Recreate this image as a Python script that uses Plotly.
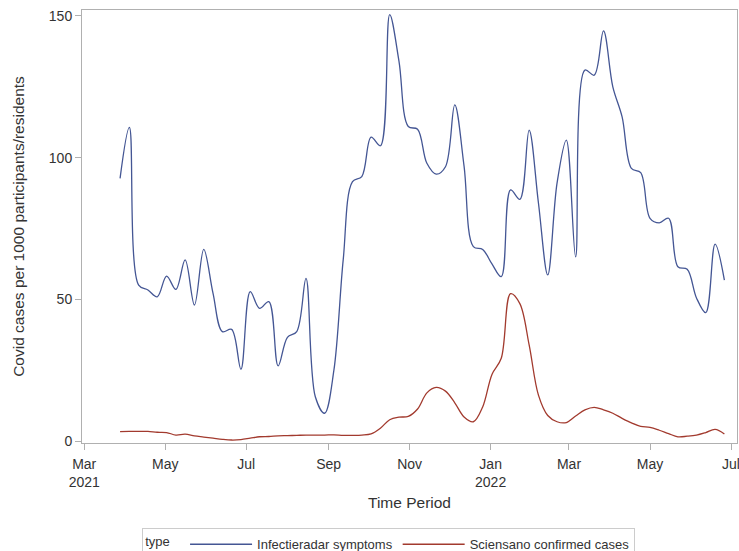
import pandas as pd
import plotly.graph_objects as go

# Weekly dates (starting 2021-03-28)
dates = pd.date_range("2021-03-28", periods=66, freq="7D")

infectieradar = [
    92.7, 110.7, 55.0, 53.3, 50.9, 58.2, 53.5, 63.9, 48.0, 67.6,
    52.1, 38.6, 39.4, 25.3, 52.7, 46.8, 49.2, 26.5, 36.6, 38.6,
    57.4, 15.6, 9.8, 25.0, 63.9, 91.5, 93.3, 107.2, 104.2, 150.5,
    134.0, 111.0, 110.0, 98.0, 94.2, 96.8, 118.6, 97.0, 68.6, 67.6,
    62.5, 58.0, 88.6, 85.3, 109.7, 84.0, 58.6, 91.0, 106.2, 65.0,
    130.9, 129.1, 144.7, 125.0, 114.4, 96.2, 94.7, 78.6, 77.0, 78.6,
    61.5, 60.6, 50.5, 45.3, 69.5, 56.8,
]

sciensano = [
    3.3, 3.4, 3.4, 3.4, 3.1, 3.0, 2.1, 2.4, 1.8, 1.4,
    1.0, 0.6, 0.35, 0.5, 1.0, 1.5, 1.6, 1.8, 1.9, 2.0,
    2.1, 2.1, 2.1, 2.2, 2.0, 2.0, 2.1, 2.5, 4.5, 7.5,
    8.4, 8.7, 11.3, 17.0, 18.9, 17.6, 13.5, 8.5, 6.8, 12.0,
    23.5, 29.2, 52.0, 48.5, 33.9, 16.2, 9.0, 6.8, 6.5, 8.8,
    11.0, 11.9, 11.0, 9.8, 8.0, 6.4, 5.2, 4.8, 3.8, 2.6,
    1.5, 1.7, 2.1, 3.0, 4.1, 2.5,
]

tick_dates = ["2021-03-01", "2021-05-01", "2021-07-01", "2021-09-01", "2021-11-01",
              "2022-01-01", "2022-03-01", "2022-05-01", "2022-07-01"]
tick_labels = ["Mar<br>2021", "May", "Jul", "Sep", "Nov", "Jan<br>2022", "Mar", "May", "Jul"]
y_ticks = [0, 50, 100, 150]

series_names = ["Infectieradar symptoms", "Sciensano confirmed cases"]
series_colors = ["#445694", "#A23A2E"]

fig = go.Figure()
for name, vals, col in zip(series_names, [infectieradar, sciensano], series_colors):
    fig.add_trace(go.Scatter(
        x=dates, y=vals, mode="lines", name=name,
        line=dict(color=col, width=1.3, shape="spline", smoothing=1.0),
    ))

axis_col = "#b0b0b0"
font_col = "#333333"
FONT = "Liberation Sans, Arial, sans-serif"

fig.update_layout(
    width=739, height=551,
    margin=dict(l=82, r=2, t=10, b=108, autoexpand=False),
    paper_bgcolor="white", plot_bgcolor="white",
    font=dict(family=FONT, size=13, color=font_col),
    showlegend=True,
    legend=dict(
        orientation="h",
        x=0.092, xanchor="left",
        y=-0.197, yanchor="top",
        title=dict(text="type  ", side="left", font=dict(size=13, color=font_col)),
        bordercolor="#cccccc", borderwidth=1,
        font=dict(size=13, color=font_col),
        itemwidth=62,
        tracegroupgap=0,
    ),
    xaxis=dict(
        range=["2021-02-27 08:00", "2022-07-05 12:00"],
        tickvals=tick_dates, ticktext=tick_labels,
        ticks="outside", ticklen=6, tickcolor=axis_col,
        ticklabelstandoff=2, ticklabeloverflow="allow",
        showline=True, linecolor=axis_col, linewidth=1, mirror=True,
        showgrid=False, zeroline=False,
        tickfont=dict(size=14, color=font_col),
        title=dict(text="Time Period", font=dict(size=15.5, color=font_col), standoff=8),
    ),
    yaxis=dict(
        range=[-0.7, 152.1],
        tickvals=y_ticks,
        ticks="outside", ticklen=6, tickcolor=axis_col,
        showline=True, linecolor=axis_col, linewidth=1, mirror=True,
        showgrid=False, zeroline=False,
        tickfont=dict(size=14, color=font_col),
        title=dict(text="Covid cases per 1000 participants/residents",
                   font=dict(size=15.5, color=font_col), standoff=20),
    ),
)

fig.write_html("out.html")
